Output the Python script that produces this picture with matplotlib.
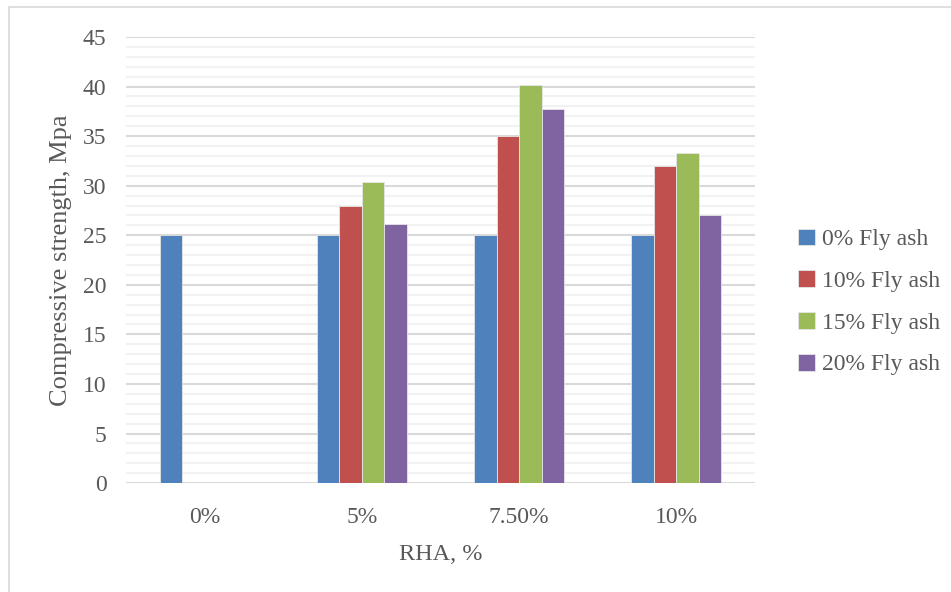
import matplotlib.pyplot as plt
import numpy as np
from matplotlib.patches import Rectangle

rha_labels = ["0%", "5%", "7.50%", "10%"]
fly_ash_labels = ["0% Fly ash", "10% Fly ash", "15% Fly ash", "20% Fly ash"]
fly0 = [25, 25, 25, 25]
fly10 = [0, 28, 35, 32]
fly15 = [0, 30.4, 40.2, 33.3]
fly20 = [0, 26.1, 37.7, 27.0]

colors = ["#4F81BD", "#C0504D", "#9BBB59", "#8064A2"]
text_c = "#595959"

plt.rcParams["font.family"] = ["Liberation Serif", "DejaVu Serif"]

fig = plt.figure(figsize=(9.51, 5.92), dpi=100)
ax = fig.add_axes([0.1325, 0.184, 0.794 - 0.1325, 0.9375 - 0.184])

# light chart-area frame, running off the right and bottom edges
fig.patches.append(Rectangle((9 / 951, -0.05), 1.1, 1.05 - 7 / 592,
                             transform=fig.transFigure, fill=False,
                             edgecolor="#D9D9D9", lw=1.2))

x = np.arange(len(rha_labels))
w = 0.143
series = [fly0, fly10, fly15, fly20]
for i, (vals, c, lab) in enumerate(zip(series, colors, fly_ash_labels)):
    ax.bar(x + (i - 1.5) * w, vals, width=w, color=c, edgecolor="#E6E6E6",
           linewidth=0.6, label=lab, zorder=3)

ax.set_xlim(-0.5, len(rha_labels) - 0.5)
ax.set_ylim(0, 45)
ax.set_yticks(np.arange(0, 46, 5))
ax.set_yticks(np.arange(0, 46, 1), minor=True)
ax.grid(axis="y", which="major", color="#D9D9D9", lw=1.5, zorder=1)
ax.grid(axis="y", which="minor", color="#F2F2F2", lw=1.5, zorder=0)
ax.set_axisbelow(True)
ax.set_xticks(x)
ax.set_xticklabels(rha_labels)
for s in ax.spines.values():
    s.set_visible(False)
ax.tick_params(axis="both", which="both", length=0, labelsize=17, colors=text_c)
ax.tick_params(axis="y", pad=14)
ax.tick_params(axis="x", pad=17)
ax.set_xlabel("RHA, %", fontsize=17.5, color=text_c, labelpad=12)
ax.set_ylabel("Compressive strength, Mpa", fontsize=19, color=text_c, labelpad=8)

ax.legend(loc="center left", bbox_to_anchor=(1.034, 0.406), frameon=False,
          fontsize=17, labelcolor=text_c, handlelength=0.72, handleheight=0.72,
          handletextpad=0.3, labelspacing=0.85)

fig.savefig("out.png", dpi=100)
